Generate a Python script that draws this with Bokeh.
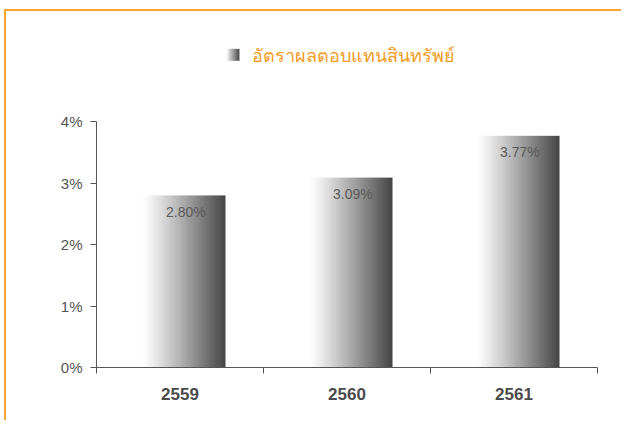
import numpy as np
from bokeh.plotting import figure
from bokeh.models import Range1d, FixedTicker, LinearAxis
from bokeh.layouts import column
from bokeh.core.properties import value
from bokeh.embed import file_html
from bokeh.resources import INLINE

# ---- data ----
years = ["2559", "2560", "2561"]
roa = [2.80, 3.09, 3.77]
roa_labels = ["2.80%", "3.09%", "3.77%"]
y_ticks = [0, 1, 2, 3, 4]
y_tick_labels = ["0%", "1%", "2%", "3%", "4%"]
title_text = "อัตราผลตอบแทนสินทรัพย์"

ORANGE_TXT = "#F39A1E"
ORANGE_LINE = "#F7A52E"
GREY = "#555555"

W, H = 615, 409
p = figure(width=W, height=H, output_backend="svg", toolbar_location=None,
           x_range=Range1d(0, 3), y_range=Range1d(0, 5.63),
           min_border_left=90, min_border_right=24, min_border_top=10, min_border_bottom=53,
           background_fill_color="white", border_fill_color="white")
p.outline_line_color = None
p.grid.visible = False
p.xaxis.visible = False
p.yaxis.visible = False

# gradient helper
def gradient(n, lo=255, hi=68, start=0.06, gamma=1.1):
    t = np.linspace(0, 1, n)
    s = np.clip((t - start) / (1 - start), 0, 1) ** gamma
    v = (lo - (lo - hi) * s).astype(np.uint32)
    rgba = (255 << 24) | (v << 16) | (v << 8) | v
    return rgba.reshape(1, n).astype(np.uint32)

bar_w = 0.525
n = len(years)
xs = [i + 0.5 - bar_w / 2 + 0.01 for i in range(n)]
imgs = [gradient(160) for _ in range(n)]
p.image_rgba(image=imgs, x=xs, y=[0] * n, dw=[bar_w] * n, dh=roa)

# value labels
p.text(x=[i + 0.5 + 0.035 for i in range(n)], y=[v - 0.27 for v in roa], text=roa_labels,
       text_align="center", text_baseline="middle", text_font=value("Liberation Sans"),
       text_font_size="14px", text_color="#5a5a5a")

# legend-like title with gradient marker
mk = gradient(40, lo=235, hi=70, start=0.0, gamma=1.0)
p.image_rgba(image=[mk], x=[0.784], y=[4.99], dw=[0.072], dh=[0.195])
p.text(x=[0.93], y=[5.085], text=[title_text], text_align="left", text_baseline="middle",
       text_font=value("Noto Sans"), text_font_size="18px", text_color=ORANGE_TXT)

# y axis
yax = LinearAxis(ticker=FixedTicker(ticks=y_ticks), bounds=(0, 4),
                 major_label_overrides={t: l for t, l in zip(y_ticks, y_tick_labels)})
yax.axis_line_color = GREY
yax.major_tick_line_color = GREY
yax.major_tick_out = 6
yax.major_tick_in = 0
yax.minor_tick_line_color = None
yax.major_label_standoff = 8
yax.major_label_text_font = "Liberation Sans"
yax.major_label_text_font_size = "15px"
yax.major_label_text_color = GREY
p.add_layout(yax, "left")

# x axis: labels at band centres, ticks at band edges
centers = [i + 0.5 for i in range(n)]
edges = [i for i in range(n + 1)]
xax = LinearAxis(ticker=FixedTicker(ticks=centers, minor_ticks=edges),
                 major_label_overrides={c: y for c, y in zip(centers, years)})
xax.axis_line_color = GREY
xax.major_tick_line_color = None
xax.minor_tick_line_color = GREY
xax.minor_tick_out = 6
xax.minor_tick_in = 0
xax.major_label_standoff = 14
xax.major_label_text_font = "Liberation Sans"
xax.major_label_text_font_style = "bold"
xax.major_label_text_font_size = "17px"
xax.major_label_text_color = "#4a4a4a"
p.add_layout(xax, "below")

layout = column(p, styles={"border-top": "2px solid " + ORANGE_LINE,
                           "border-left": "2px solid " + ORANGE_LINE,
                           "margin-left": "4px", "margin-top": "9px"})

open("out.html", "w").write(file_html(layout, INLINE))
